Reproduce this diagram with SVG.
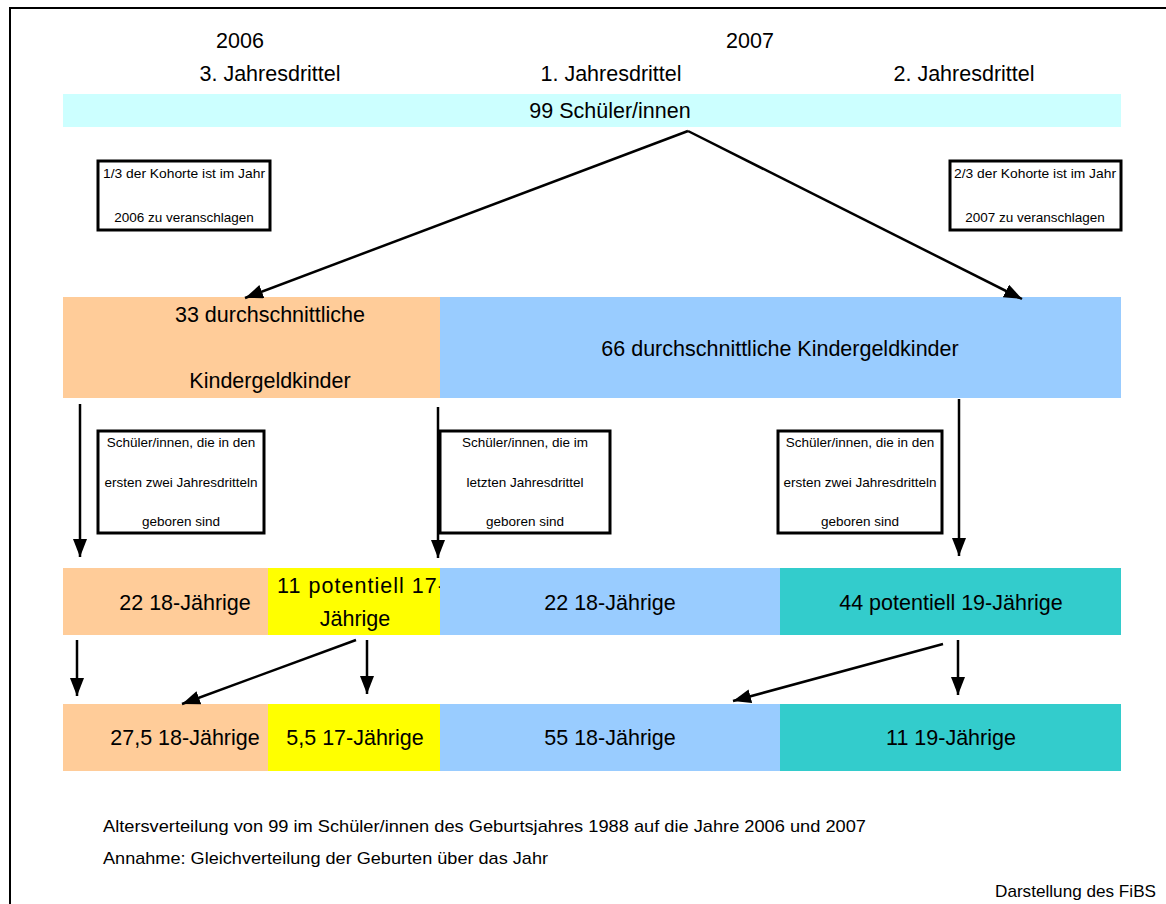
<svg xmlns="http://www.w3.org/2000/svg" width="1166" height="904" viewBox="0 0 1166 904">
<style>
text{font-family:"Liberation Sans",Arial,sans-serif;fill:#000}
.h{font-size:21.5px}
.b{font-size:21.5px}
.s{font-size:13.5px}
.n{font-size:17px}
.box{fill:#fff;stroke:#000;stroke-width:3}
.c{stroke:#000;stroke-width:2.5;fill:none;marker-end:url(#ah)}
</style>
<defs>
<marker id="ah" markerUnits="userSpaceOnUse" markerWidth="20" markerHeight="16" refX="18" refY="7" orient="auto" viewBox="0 0 20 16">
<path d="M0,0 L18,7 L0,14 z" fill="#000"/>
</marker>
<clipPath id="yclip"><rect x="268" y="568" width="172" height="67"/></clipPath>
</defs>
<rect width="1166" height="904" fill="#fff"/>
<path d="M10,904 V8 H1166" fill="none" stroke="#000" stroke-width="2"/>

<g id="headers">
<text class="h" x="240" y="48" text-anchor="middle">2006</text>
<text class="h" x="750" y="48" text-anchor="middle">2007</text>
<text class="h" x="270" y="81" text-anchor="middle">3. Jahresdrittel</text>
<text class="h" x="611" y="81" text-anchor="middle">1. Jahresdrittel</text>
<text class="h" x="964" y="81" text-anchor="middle">2. Jahresdrittel</text>
</g>

<g id="total">
<rect x="63" y="94" width="1058" height="33" fill="#CCFFFF"/>
<text class="b" x="610" y="118" text-anchor="middle">99 Schüler/innen</text>
</g>

<g id="note2006">
<rect class="box" x="98" y="161" width="172" height="69"/>
<text class="s" x="184" y="178" text-anchor="middle" textLength="162" lengthAdjust="spacingAndGlyphs">1/3 der Kohorte ist im Jahr</text>
<text class="s" x="184" y="222" text-anchor="middle">2006 zu veranschlagen</text>
</g>
<g id="note2007">
<rect class="box" x="950" y="161" width="171" height="69"/>
<text class="s" x="1035" y="178" text-anchor="middle" textLength="162" lengthAdjust="spacingAndGlyphs">2/3 der Kohorte ist im Jahr</text>
<text class="s" x="1035" y="222" text-anchor="middle">2007 zu veranschlagen</text>
</g>

<g id="kg33">
<rect x="63" y="297" width="377" height="101" fill="#FFCC99"/>
<text class="b" x="270" y="322" text-anchor="middle">33 durchschnittliche</text>
<text class="b" x="270" y="388" text-anchor="middle">Kindergeldkinder</text>
</g>
<g id="kg66">
<rect x="440" y="297" width="681" height="101" fill="#99CCFF"/>
<text class="b" x="780" y="356" text-anchor="middle">66 durchschnittliche Kindergeldkinder</text>
</g>

<g id="noteA">
<rect class="box" x="98" y="431" width="166" height="102"/>
<text class="s" x="181" y="447" text-anchor="middle">Schüler/innen, die in den</text>
<text class="s" x="181" y="487" text-anchor="middle">ersten zwei Jahresdritteln</text>
<text class="s" x="181" y="526" text-anchor="middle">geboren sind</text>
</g>
<g id="noteB">
<rect class="box" x="440" y="431" width="170" height="102"/>
<text class="s" x="525" y="447" text-anchor="middle">Schüler/innen, die im</text>
<text class="s" x="525" y="487" text-anchor="middle">letzten Jahresdrittel</text>
<text class="s" x="525" y="526" text-anchor="middle">geboren sind</text>
</g>
<g id="noteC">
<rect class="box" x="778" y="431" width="164" height="102"/>
<text class="s" x="860" y="447" text-anchor="middle">Schüler/innen, die in den</text>
<text class="s" x="860" y="487" text-anchor="middle">ersten zwei Jahresdritteln</text>
<text class="s" x="860" y="526" text-anchor="middle">geboren sind</text>
</g>

<g id="r3a">
<rect x="63" y="568" width="205" height="67" fill="#FFCC99"/>
<text class="b" x="185" y="610" text-anchor="middle">22 18-Jährige</text>
</g>
<g id="r3b">
<rect x="268" y="568" width="172" height="67" fill="#FFFF00"/>
<g clip-path="url(#yclip)">
<text class="b" x="277" y="593" textLength="168" lengthAdjust="spacing">11 potentiell 17-</text>
</g>
<text class="b" x="355" y="626" text-anchor="middle">Jährige</text>
</g>
<g id="r3c">
<rect x="440" y="568" width="340" height="67" fill="#99CCFF"/>
<text class="b" x="610" y="610" text-anchor="middle">22 18-Jährige</text>
</g>
<g id="r3d">
<rect x="780" y="568" width="341" height="67" fill="#33CCCC"/>
<text class="b" x="951" y="610" text-anchor="middle">44 potentiell 19-Jährige</text>
</g>

<g id="r4a">
<rect x="63" y="704" width="205" height="67" fill="#FFCC99"/>
<text class="b" x="185" y="745" text-anchor="middle">27,5 18-Jährige</text>
</g>
<g id="r4b">
<rect x="268" y="704" width="172" height="67" fill="#FFFF00"/>
<text class="b" x="355" y="745" text-anchor="middle">5,5 17-Jährige</text>
</g>
<g id="r4c">
<rect x="440" y="704" width="340" height="67" fill="#99CCFF"/>
<text class="b" x="610" y="745" text-anchor="middle">55 18-Jährige</text>
</g>
<g id="r4d">
<rect x="780" y="704" width="341" height="67" fill="#33CCCC"/>
<text class="b" x="951" y="745" text-anchor="middle">11 19-Jährige</text>
</g>

<g id="connectors">
<path class="c" d="M688,131 L245,298"/>
<path class="c" d="M688,131 L1022,299"/>
<path class="c" d="M80,404 V557"/>
<path class="c" d="M438,407 V558"/>
<path class="c" d="M959,399 V556"/>
<path class="c" d="M77,640 V696"/>
<path class="c" d="M356,640 L182,704"/>
<path class="c" d="M367,640 V694"/>
<path class="c" d="M943,644 L733,701"/>
<path class="c" d="M958,640 V695"/>
</g>

<g id="notes">
<text class="n" x="103" y="832" textLength="763" lengthAdjust="spacingAndGlyphs">Altersverteilung von 99 im Schüler/innen des Geburtsjahres 1988 auf die Jahre 2006 und 2007</text>
<text class="n" x="103" y="864" textLength="445" lengthAdjust="spacingAndGlyphs">Annahme: Gleichverteilung der Geburten über das Jahr</text>
<text class="n" x="1156" y="897" text-anchor="end" textLength="161" lengthAdjust="spacingAndGlyphs">Darstellung des FiBS</text>
</g>
</svg>
